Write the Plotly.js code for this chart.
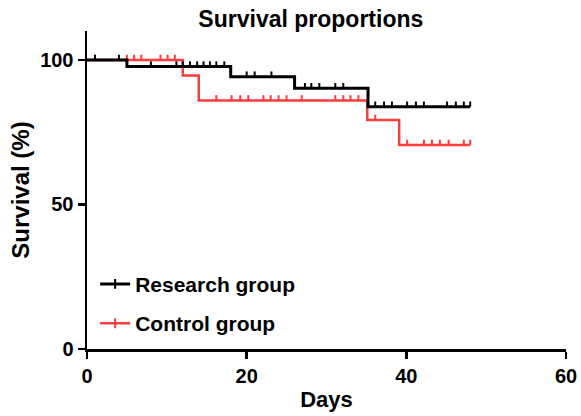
<!DOCTYPE html>
<html>
<head>
<meta charset="utf-8">
<script src="https://cdn.plot.ly/plotly-3.0.1.min.js"></script>
<style>html,body{margin:0;padding:0;background:#fff;}#chart{width:581px;height:416px;}</style>
</head>
<body>
<div id="chart"></div>
<script>
// Research group (black)
const researchStepDays = [0, 5, 18, 26, 35.2, 48];
const researchSurvival = [100, 97.7, 94.2, 90.2, 83.8, 83.8];
const researchCensorDays = [1, 4, 8, 11.2, 12, 12.9, 13.8, 14.6, 15.4, 16.2, 17.2, 20, 21, 23.1, 27.3, 28.1, 29.1, 31.1, 32.1, 36.1, 37.2, 38.2, 40.1, 41.2, 42.2, 45.1, 46.2, 47.2, 48];

// Control group (red)
const controlStepDays = [0, 12, 14, 35.1, 39.1, 48];
const controlSurvival = [100, 94.6, 86.0, 79.2, 70.6, 70.6];
const controlCensorDays = [5, 5.9, 6.8, 9.2, 10.1, 11, 16.2, 18.1, 19.2, 20.2, 22.1, 23, 24, 25, 26.9, 31.1, 32.1, 33, 34, 36.1, 40.1, 42.2, 43.2, 44.2, 45.3, 47.2, 48];

const groupNames = ["Research group", "Control group"];
const xTicks = [0, 20, 40, 60];
const yTicks = [0, 50, 100];

const BLACK = "#000000";
const RED = "#ff3b3b";
const FONT = "Liberation Sans, Arial, sans-serif";
const TICK_UP = 1.8;

function survAt(days, surv, t) {
  let v = surv[0];
  for (let i = 0; i < days.length; i++) { if (days[i] <= t) v = surv[i]; }
  return v;
}

function stepTrace(days, surv, color, width) {
  return {x: days, y: surv, type: "scatter", mode: "lines",
    line: {shape: "hv", color: color, width: width}, showlegend: false, hoverinfo: "skip"};
}
function censorTrace(cdays, days, surv, color) {
  return {x: cdays, y: cdays.map(t => survAt(days, surv, t)), type: "scatter", mode: "markers",
    marker: {size: 1, color: color, opacity: 0},
    error_y: {type: "data", symmetric: false, array: cdays.map(() => TICK_UP), arrayminus: cdays.map(() => 0),
      width: 0, thickness: 2, color: color},
    showlegend: false, hoverinfo: "skip"};
}
function legendTrace(name, color, width, group) {
  return {x: [null], y: [null], type: "scatter", mode: "lines+markers", name: name, legendgroup: group,
    line: {color: color, width: width}, marker: {symbol: "line-ns-open", size: 7, color: color, line: {color: color, width: 2}}};
}

const data = [
  stepTrace(controlStepDays, controlSurvival, RED, 2.5),
  censorTrace(controlCensorDays, controlStepDays, controlSurvival, RED),
  stepTrace(researchStepDays, researchSurvival, BLACK, 3),
  censorTrace(researchCensorDays, researchStepDays, researchSurvival, BLACK),
  legendTrace(groupNames[0], BLACK, 3, "a"),
  legendTrace(groupNames[1], RED, 2.5, "b")
];

const layout = {
  width: 581, height: 416,
  margin: {l: 87, r: 15, t: 31, b: 67},
  paper_bgcolor: "#fff", plot_bgcolor: "#fff",
  font: {family: FONT, color: "#000"},
  title: {text: "Survival proportions", font: {family: FONT, size: 23, weight: 700, color: "#000"},
    x: 0.535, xanchor: "center", y: 0.955, yanchor: "middle"},
  xaxis: {range: [0, 60], tickvals: xTicks, ticktext: xTicks.map(String),
    showline: true, linewidth: 2.5, linecolor: "#000", ticks: "outside", ticklen: 7, tickwidth: 2.5, tickcolor: "#000",
    showgrid: false, zeroline: false, tickfont: {family: FONT, size: 20, weight: 700},
    title: {text: "Days", font: {family: FONT, size: 22, weight: 700}, standoff: 6}},
  yaxis: {range: [0, 110], tickvals: yTicks, ticktext: yTicks.map(String),
    showline: true, linewidth: 2.5, linecolor: "#000", ticks: "outside", ticklen: 7, tickwidth: 2.5, tickcolor: "#000",
    showgrid: false, zeroline: false, tickfont: {family: FONT, size: 20, weight: 700},
    title: {text: "Survival (%)", font: {family: FONT, size: 24, weight: 700}, standoff: 4}},
  legend: {x: 0.017, y: 0.268, xanchor: "left", yanchor: "top", bgcolor: "rgba(0,0,0,0)",
    font: {family: FONT, size: 21, weight: 700}, traceorder: "grouped", tracegroupgap: 9},
  showlegend: true
};

Plotly.newPlot("chart", data, layout, {displayModeBar: false, staticPlot: true});
</script>
</body>
</html>
